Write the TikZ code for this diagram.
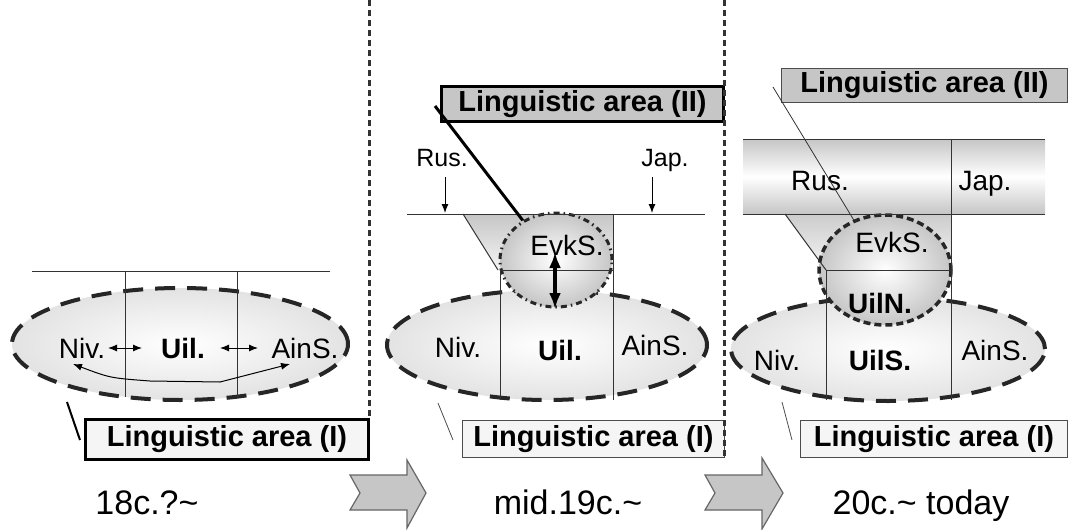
\documentclass[tikz,border=0pt]{standalone}
\usepackage{fontspec}
\setmainfont{Liberation Sans}
\usepackage{tikz}
\usetikzlibrary{arrows.meta}
\usetikzlibrary{positioning}
\usetikzlibrary{shapes.geometric}
\tikzset{>={Latex[length=9pt,width=7pt]}}
\tikzset{
  lbl/.style={font=\fontsize{28}{30}\selectfont, inner sep=0pt, anchor=base},
  lblb/.style={font=\fontsize{28}{30}\selectfont\bfseries, inner sep=0pt, anchor=base},
  era/.style={font=\fontsize{34}{36}\selectfont, inner sep=0pt, anchor=base},
  thinline/.style={draw=black!80, line width=1pt},
  areaI/.style={ellipse, inner sep=0pt, draw=black!85, line width=4pt,
    dash pattern=on 20pt off 12pt, inner color=white, outer color=gray!22},
  evk/.style={ellipse, inner sep=0pt, draw=black!85, inner color=white, outer color=gray!45},
  box/.style={font=\fontsize{29}{30}\selectfont\bfseries, inner sep=0pt, anchor=north east},
  boxI/.style={box, fill=gray!8},
  boxII/.style={box, fill=gray!45},
  heavy/.style={draw=black, line width=3pt},
  light/.style={draw=black!70, line width=1pt},
  divider/.style={draw=black!80, line width=3pt, dash pattern=on 6pt off 4pt},
  chev/.style={fill=gray!45, draw=black!60, line width=1.2pt, line join=miter}
}

\begin{document}
\begin{tikzpicture}[x=1pt, y=-1pt]
  \useasboundingbox (0,0) rectangle (1069,530);

  % 18c.
  \node[areaI, minimum width=336pt, minimum height=112pt] (ell1) at (180,344) {};
  \coordinate (h1l) at (32,271);
  \coordinate (h1r) at (330,271);
  \draw[thinline] (h1l) -- (h1r);
  \draw[thinline] (125,271) -- (125,397);
  \draw[thinline] (237,271) -- (237,397);
  \node[lbl] (niv1) at (82,358) {Niv.};
  \node[lblb] (uil1) at (183,358) {Uil.};
  \node[lbl] (ains1) at (305,358) {AinS.};
  \coordinate (a1l) at (108,348);
  \coordinate (a1r) at (142,348);
  \coordinate (a2l) at (220,348);
  \coordinate (a2r) at (258,348);
  \draw[<->, line width=1pt] (a1l) -- (a1r);
  \draw[<->, line width=1pt] (a2l) -- (a2r);
  \coordinate (cl) at (73,364);
  \coordinate (cr) at (290,364);
  \draw[<->, line width=1pt] (cl) .. controls (110,378) .. (150,381) -- (220,382) -- (cr);
  \node[boxI, heavy, minimum width=283pt, minimum height=40pt] (lingI1) at (370,418) {Linguistic area (I)};
  \coordinate (c1a) at (67,402);
  \coordinate (c1b) at (80,440);
  \draw[line width=2pt] (c1a) -- (c1b);

  % mid.19c.
  \node[areaI, minimum width=320pt, minimum height=110pt] (ell2) at (547,345) {};
  \shade[top color=gray!45, bottom color=gray!8] (463,214) -- (613,214) -- (613,270) -- (498,270) -- cycle;
  \node[evk, line width=3pt, dash pattern=on 6pt off 4pt on 1.5pt off 4pt,
        minimum width=112pt, minimum height=94pt] (evk2) at (556,260) {};
  \draw[thinline] (463,214) -- (498,270);
  \draw[thinline] (407,214) -- (705,214);
  \draw[thinline] (500,270) -- (613,270);
  \draw[thinline] (500,270) -- (500,400);
  \draw[thinline] (613,214) -- (613,400);
  \node[lbl] (evks2) at (567,255) {EvkS.};
  \node[lbl] (niv2) at (458,357) {Niv.};
  \node[lblb] (uil2) at (560,360) {Uil.};
  \node[lbl] (ains2) at (655,355) {AinS.};
  \node[lbl, font=\fontsize{25}{27}\selectfont] (rus2) at (442,166) {Rus.};
  \node[lbl, font=\fontsize{25}{27}\selectfont] (jap2) at (665,166) {Jap.};
  \coordinate (rusin) at (445,213);
  \coordinate (japin) at (652,213);
  \draw[->, line width=1pt] (rusin |- rus2.base) ++(0,11) -- (rusin);
  \draw[->, line width=1pt] (japin |- jap2.base) ++(0,11) -- (japin);
  \coordinate (up2) at (555,252);
  \coordinate (dn2) at (555,309);
  \draw[{Latex[length=16pt,width=12pt]}-{Latex[length=16pt,width=12pt]}, line width=3.5pt] (up2) -- (dn2);
  \node[boxII, heavy, minimum width=282pt, minimum height=35pt] (lingII2) at (725,85) {Linguistic area (II)};
  \coordinate (c2a) at (435,106);
  \draw[line width=3pt] (c2a) -- (evk2.130);
  \node[boxI, light, minimum width=262pt, minimum height=37pt] (lingI2) at (725,420) {Linguistic area (I)};
  \coordinate (c3a) at (438,403);
  \coordinate (c3b) at (453,440);
  \draw[line width=0.8pt, black!70] (c3a) -- (c3b);

  % 20c. today
  \node[areaI, minimum width=314pt, minimum height=104pt] (ell3) at (888,349) {};
  \shade[top color=gray!45, bottom color=gray!45, middle color=white] (743,139) rectangle (1045,214);
  \shade[top color=gray!40, bottom color=gray!8] (785,214) -- (951,214) -- (951,270) -- (826,270) -- cycle;
  \node[evk, line width=3.5pt, dash pattern=on 7pt off 4pt,
        minimum width=132pt, minimum height=110pt] (evk3) at (885,270) {};
  \draw[thinline] (743,139) -- (1045,139);
  \draw[thinline] (743,214) -- (1045,214);
  \draw[thinline] (785,214) -- (826,270);
  \draw[thinline] (826,270) -- (951,270);
  \draw[thinline] (826,270) -- (826,400);
  \draw[thinline] (951,139) -- (951,400);
  \node[lbl] (rus3) at (820,190) {Rus.};
  \node[lbl] (jap3) at (985,190) {Jap.};
  \node[lbl] (evks3) at (892,252) {EvkS.};
  \node[lblb] (uiln3) at (880,313) {UilN.};
  \node[lbl] (niv3) at (777,370) {Niv.};
  \node[lblb] (uils3) at (880,370) {UilS.};
  \node[lbl] (ains3) at (995,360) {AinS.};
  \node[boxII, light, minimum width=286pt, minimum height=34pt] (lingII3) at (1068,68) {Linguistic area (II)};
  \coordinate (c4a) at (773,87);
  \draw[line width=0.8pt, black!80] (c4a) -- (evk3.122);
  \node[boxI, light, minimum width=267pt, minimum height=37pt] (lingI3) at (1068,420) {Linguistic area (I)};
  \coordinate (c5a) at (782,402);
  \coordinate (c5b) at (792,440);
  \draw[line width=0.8pt, black!70] (c5a) -- (c5b);

  % dividers
  \draw[divider] (369,0) -- (369,418);
  \draw[divider] (724,0) -- (724,458);

  % time line
  \node[era] (t1) at (147,514) {18c.?\textasciitilde};
  \node[era] (t2) at (568,514) {mid.19c.\textasciitilde};
  \node[era] (t3) at (921,514) {20c.\textasciitilde{} today};
  \filldraw[chev] (350,475) -- (407,475) -- (407,460) -- (426,493) -- (407,528) -- (407,510) -- (350,510) -- (360,493) -- cycle;
  \filldraw[chev] (705,475) -- (762,475) -- (762,458) -- (783,493) -- (762,529) -- (762,510) -- (705,510) -- (715,493) -- cycle;
\end{tikzpicture}
\end{document}
